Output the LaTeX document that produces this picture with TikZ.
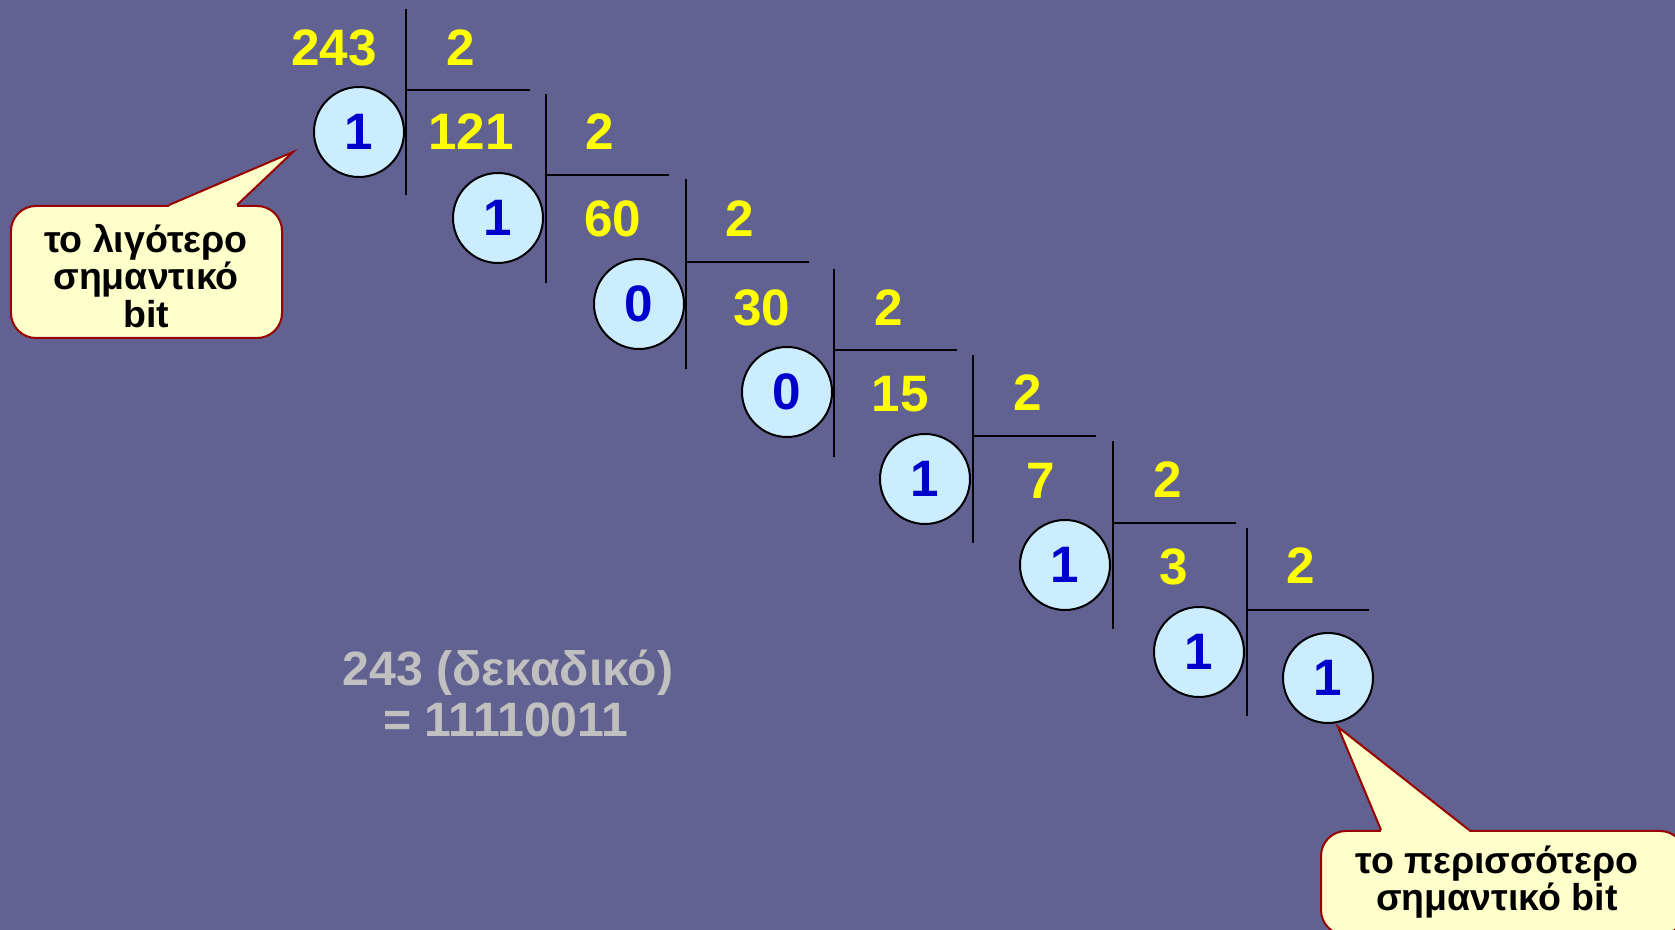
\documentclass[tikz,border=0pt]{standalone}
\usepackage{fontspec}
\setmainfont{Liberation Sans}
\usepackage{xcolor}
\usepackage{tikz}
\usetikzlibrary{calc}
\definecolor{slidebg}{RGB}{98, 98, 146}
\definecolor{numyellow}{RGB}{255, 255, 0}
\definecolor{bitblue}{RGB}{0, 0, 204}
\definecolor{bitfill}{RGB}{204, 236, 255}
\definecolor{notefill}{RGB}{255, 255, 204}
\definecolor{noteborder}{RGB}{153, 0, 0}
\definecolor{resultgray}{RGB}{192, 192, 192}
\tikzstyle{numtext} = [text=numyellow, font=\fontsize{20.5}{24}\selectfont\bfseries, inner sep=0pt]
\tikzstyle{bit} = [circle, draw=black, fill=bitfill, text=bitblue, minimum size=36pt, inner sep=0pt, line width=0.8pt, font=\fontsize{20.5}{24}\selectfont\bfseries]
\tikzstyle{divline} = [black, line width=0.8pt]
\tikzstyle{notebox} = [rectangle, rounded corners=10pt, draw=noteborder, fill=notefill, line width=0.8pt, align=center, inner sep=0pt, font=\fontsize{15}{15}\selectfont\bfseries]
\tikzstyle{noteedge} = [draw=noteborder, line width=0.8pt, line join=miter]
\tikzstyle{resulttext} = [text=resultgray, font=\fontsize{19.3}{21}\selectfont\bfseries, inner sep=0pt, anchor=base]

\begin{document}
\begin{tikzpicture}[x=0.4pt, y=-0.4pt]
    % Background
    \fill[slidebg] (0,0) rectangle (1675,930);
    \useasboundingbox (0,0) rectangle (1675,930);

    % 243 / 2
    \node[numtext] (n243) at (334,48) {243};
    \node[numtext] (two1) at (461,48) {2};
    \draw[divline] (406,9) -- (406,195);
    \draw[divline] (406,90) -- (530,90);
    \node[bit] (r1) at (359,132) {1};

    % 121 / 2
    \node[numtext] (n121) at (471,132) {121};
    \node[numtext] (two2) at (600,132) {2};
    \draw[divline] (546,94) -- (546,283);
    \draw[divline] (546,175) -- (669,175);
    \node[bit] (r2) at (498,218) {1};

    % 60 / 2
    \node[numtext] (n60) at (613,219) {60};
    \node[numtext] (two3) at (740,219) {2};
    \draw[divline] (686,179) -- (686,369);
    \draw[divline] (686,262) -- (809,262);
    \node[bit] (r3) at (639,304) {0};

    % 30 / 2
    \node[numtext] (n30) at (762,308) {30};
    \node[numtext] (two4) at (889,308) {2};
    \draw[divline] (834,269) -- (834,457);
    \draw[divline] (834,350) -- (957,350);
    \node[bit] (r4) at (787,392) {0};

    % 15 / 2
    \node[numtext] (n15) at (900,394) {15};
    \node[numtext] (two5) at (1028,393) {2};
    \draw[divline] (973,355) -- (973,543);
    \draw[divline] (973,436) -- (1096,436);
    \node[bit] (r5) at (925,479) {1};

    % 7 / 2
    \node[numtext] (n7) at (1041,481) {7};
    \node[numtext] (two6) at (1168,480) {2};
    \draw[divline] (1113,441) -- (1113,629);
    \draw[divline] (1113,523) -- (1236,523);
    \node[bit] (r6) at (1065,565) {1};

    % 3 / 2
    \node[numtext] (n3) at (1174,567) {3};
    \node[numtext] (two7) at (1301,566) {2};
    \draw[divline] (1247,528) -- (1247,716);
    \draw[divline] (1247,610) -- (1369,610);
    \node[bit] (r7) at (1199,652) {1};

    % Last quotient
    \node[bit] (r8) at (1328,678) {1};

    % Result
    \node[resulttext] (res1) at (508,686) {243 (δεκαδικό)};
    \node[resulttext] (res2) at (506,737) {= 11110011};

    % Least significant bit note
    \node[notebox, minimum width=108.4pt, minimum height=52.8pt] (lsb) at (146.5,272) {};
    \node[font=\fontsize{15}{15}\selectfont\bfseries, align=center, inner sep=0pt] (lsbtext) at (146,276) {το λιγότερο\\σημαντικό\\bit};
    \coordinate (lsbtip) at ($(r1)+(-66,20)$);
    \fill[notefill] ($(lsb.north)+(22.5,0)$) -- (lsbtip) -- ($(lsb.north)+(90.5,0)$) -- ($(lsb.north)+(90.5,4)$) -- ($(lsb.north)+(22.5,4)$) -- cycle;
    \draw[noteedge] ($(lsb.north)+(22.5,0)$) -- (lsbtip) -- ($(lsb.north)+(90.5,0)$);

    % Most significant bit note
    \node[notebox, minimum width=145.6pt, minimum height=41.6pt] (msb) at (1503,883) {};
    \node[font=\fontsize{15}{14.5}\selectfont\bfseries, align=center, inner sep=0pt] (msbtext) at (1497,882) {το περισσότερο\\σημαντικό bit};
    \coordinate (msbtip) at ($(r8)+(10,49)$);
    \fill[notefill] ($(msb.north)+(-122,0)$) -- (msbtip) -- ($(msb.north)+(-34,0)$) -- ($(msb.north)+(-34,4)$) -- ($(msb.north)+(-122,4)$) -- cycle;
    \draw[noteedge] ($(msb.north)+(-122,0)$) -- (msbtip) -- ($(msb.north)+(-34,0)$);
\end{tikzpicture}
\end{document}
